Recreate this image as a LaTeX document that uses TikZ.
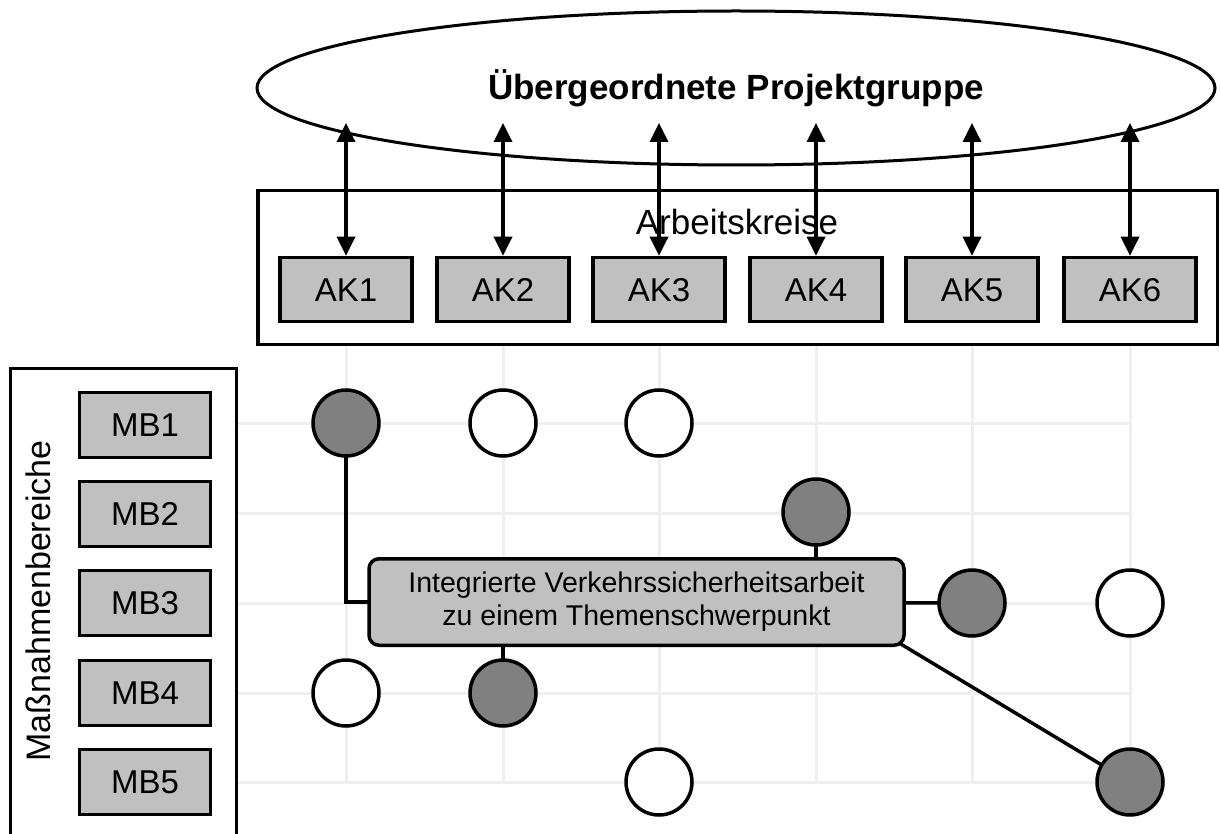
\documentclass[tikz,border=0pt]{standalone}
\usepackage{fontspec}
\setmainfont{Liberation Sans}
\usetikzlibrary{arrows.meta,calc,shapes.geometric}
\pgfdeclarelayer{bgfill}
\pgfdeclarelayer{bg}
\pgfsetlayers{bgfill,bg,main}
\definecolor{boxgray}{HTML}{C0C0C0}
\definecolor{dotgray}{HTML}{808080}
\definecolor{gridgray}{HTML}{EFEFEF}
\begin{document}
\begin{tikzpicture}[x=1pt,y=-1pt,
  lbl/.style={draw=black,line width=3.5pt,fill=boxgray,minimum width=132pt,minimum height=64pt,inner sep=0pt,text height=23.5pt,text depth=0pt,font=\fontsize{33}{39}\selectfont},
  dot/.style={circle,draw=black,line width=3.5pt,minimum size=66pt,inner sep=0pt},
  dark/.style={dot,fill=dotgray},
  light/.style={dot,fill=white},
  link/.style={line width=3.5pt},
  dblarrow/.style={line width=3.5pt,{Triangle[length=19pt,width=18pt]}-{Triangle[length=19pt,width=18pt]}},
  gridline/.style={gridgray,line width=3pt}]
\useasboundingbox (0,0) rectangle (1220,834);
\begin{pgfonlayer}{bgfill}
\fill[white] (0,0) rectangle (1220,834);
\end{pgfonlayer}
% grid
\begin{pgfonlayer}{bg}
\foreach \gx in {346,503,659,816,972,1130} \draw[gridline] (\gx,346) -- (\gx,783);
\foreach \gy in {423,513,603,693,782} \draw[gridline] (236,\gy) -- (1130,\gy);
\end{pgfonlayer}
% top ellipse
\node[ellipse,draw=black,line width=3pt,minimum width=958pt,minimum height=154pt,inner sep=0pt,font=\fontsize{35}{41}\selectfont\bfseries] (pg) at (736,88) {Übergeordnete Projektgruppe};
% Arbeitskreise frame
\node[draw=black,line width=3.5pt,minimum width=959.5pt,minimum height=153.5pt,inner sep=0pt] (akframe) at (737.5,267.5) {};
\node[font=\fontsize{35}{41}\selectfont,inner sep=0pt] (akl) at (737,222) {Arbeitskreise};
\foreach \i/\ax in {1/346,2/503,3/659,4/816,5/972,6/1130}{
  \node[lbl] (ak\i) at (\ax,289.5) {AK\i};
  \coordinate (t\i) at (\ax,123);
  \draw[dblarrow] (ak\i.north) -- (t\i);
}
% Massnahmenbereiche frame
\draw[line width=3pt] (10,840) -- (10,368) -- (236,368) -- (236,840);
\node[rotate=90,font=\fontsize{34}{40}\selectfont,inner sep=0pt] (mbl) at (38,601) {Maßnahmenbereiche};
\foreach \i/\my in {1/425,2/514,3/603,4/693,5/782}{
  \node[lbl,minimum width=131pt,minimum height=65pt] (mb\i) at (145,\my) {MB\i};
}
% circles
\node[dark]  (c11) at (346,423) {};
\node[light] (c12) at (503,423) {};
\node[light] (c13) at (659,423) {};
\node[dark]  (c24) at (816,512) {};
\node[dark]  (c35) at (972,603) {};
\node[light] (c36) at (1130,603) {};
\node[light] (c41) at (346,693) {};
\node[dark]  (c42) at (503,693) {};
\node[light] (c53) at (659,782) {};
\node[dark]  (c56) at (1130,782) {};
% central box
\node[draw=black,rounded corners=10pt,fill=boxgray,line width=3.5pt,minimum width=535pt,minimum height=86.5pt,inner sep=0pt,align=center,font=\fontsize{28.5}{33}\selectfont] (cb) at (636.5,602) {Integrierte Verkehrssicherheitsarbeit\\zu einem Themenschwerpunkt};
% connectors
\begin{pgfonlayer}{bg}
\draw[link] (c11.center) |- (cb.center);
\draw[link] (c24.center) -- (c24.center |- cb.center);
\draw[link] (cb.center) -- (c35.center);
\draw[link] (c42.center) -- (c42.center |- cb.center);
\draw[link] ($(cb.south east)!-12pt!(c56.center)$) -- (c56.center);
\end{pgfonlayer}
\end{tikzpicture}
\end{document}
